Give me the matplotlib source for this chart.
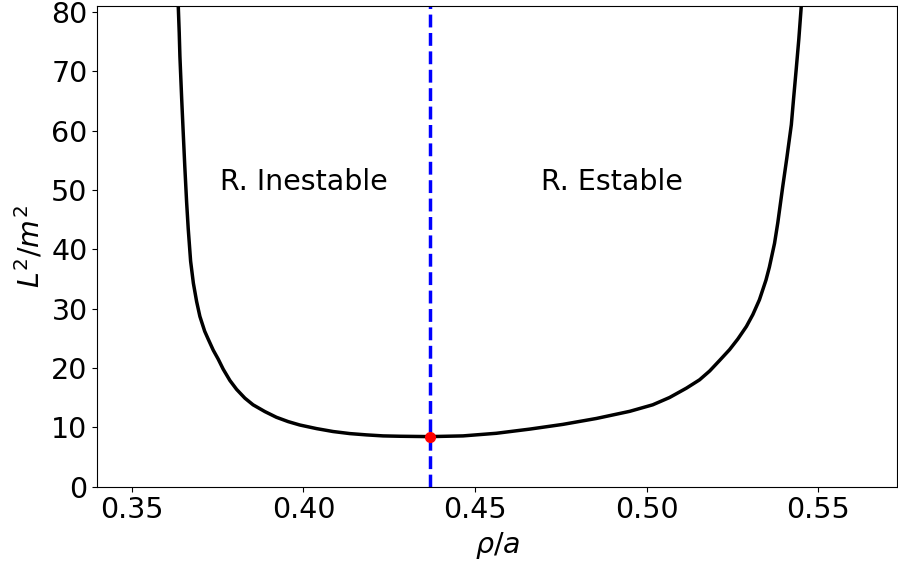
import numpy as np
import matplotlib
matplotlib.use('Agg')
import matplotlib.pyplot as plt

# curve: rho/a vs L^2/m^2
rho = [0.3635, 0.36378, 0.36398, 0.3645, 0.36494, 0.3654, 0.36593, 0.3664,
       0.3671, 0.3679, 0.36885, 0.3698, 0.3712, 0.3722, 0.3737, 0.37514,
       0.3766, 0.37855, 0.3805, 0.38292, 0.3853, 0.38874, 0.3921, 0.39553,
       0.3989, 0.4038, 0.4086, 0.4135, 0.4184, 0.4232, 0.4281, 0.4368,
       0.4465, 0.4562, 0.4659, 0.4756, 0.4854, 0.4951, 0.5018, 0.50671,
       0.5116, 0.51545, 0.5184, 0.52128, 0.5242, 0.52661, 0.5291, 0.53098,
       0.5329, 0.5348, 0.5358, 0.5373, 0.53826, 0.5397, 0.54089, 0.5422,
       0.54284, 0.5436, 0.54438, 0.5451]
L2 = [81.0, 76.5, 72.5, 65.3, 59.7, 54.0, 48.0, 43.5,
      38.0, 34.3, 31.2, 28.7, 26.2, 24.9, 23.0, 21.5,
      19.8, 17.9, 16.4, 14.92, 13.8, 12.66, 11.7, 10.97,
      10.4, 9.79, 9.3, 8.95, 8.73, 8.56, 8.5, 8.44,
      8.56, 9.0, 9.7, 10.5, 11.5, 12.7, 13.8, 15.03,
      16.6, 18.01, 19.5, 21.27, 23.1, 24.89, 27.0, 29.0,
      31.5, 34.8, 37.0, 41.0, 44.5, 50.6, 55.4, 61.0,
      65.3, 70.2, 75.4, 81.0]

# minimum (stability boundary)
rho_min = 0.4368
L2_min = 8.44

# region labels
labels = ['R. Inestable', 'R. Estable']
label_x = [0.40, 0.49]
label_y = [50, 50]

xticks = [0.35, 0.40, 0.45, 0.50, 0.55]
yticks = [0, 10, 20, 30, 40, 50, 60, 70, 80]

fs = 20.5

fig = plt.figure(figsize=(8.98, 5.68), dpi=100)
ax = fig.add_axes([97.3 / 898, 81.3 / 568, (897 - 97.3) / 898, (562 - 81.3) / 568])

ax.plot(rho, L2, color='black', lw=2.5, solid_joinstyle='round')
ax.axvline(rho_min, color='blue', ls='--', lw=2.5)
ax.plot([rho_min], [L2_min], 'o', color='red', ms=7)

for txt, tx, ty in zip(labels, label_x, label_y):
    ax.text(tx, ty, txt, ha='center', fontsize=fs)

ax.set_xlim(0.3399, 0.573)
ax.set_ylim(0, 81)
ax.set_xticks(xticks)
ax.set_xticklabels(['{:.2f}'.format(v) for v in xticks])
ax.set_yticks(yticks)
ax.tick_params(labelsize=fs)
ax.set_xlabel(r'$\rho/a$', fontsize=fs)
ax.set_ylabel(r'$L^2/m^2$', fontsize=fs)

fig.savefig('out.png', dpi=100)
